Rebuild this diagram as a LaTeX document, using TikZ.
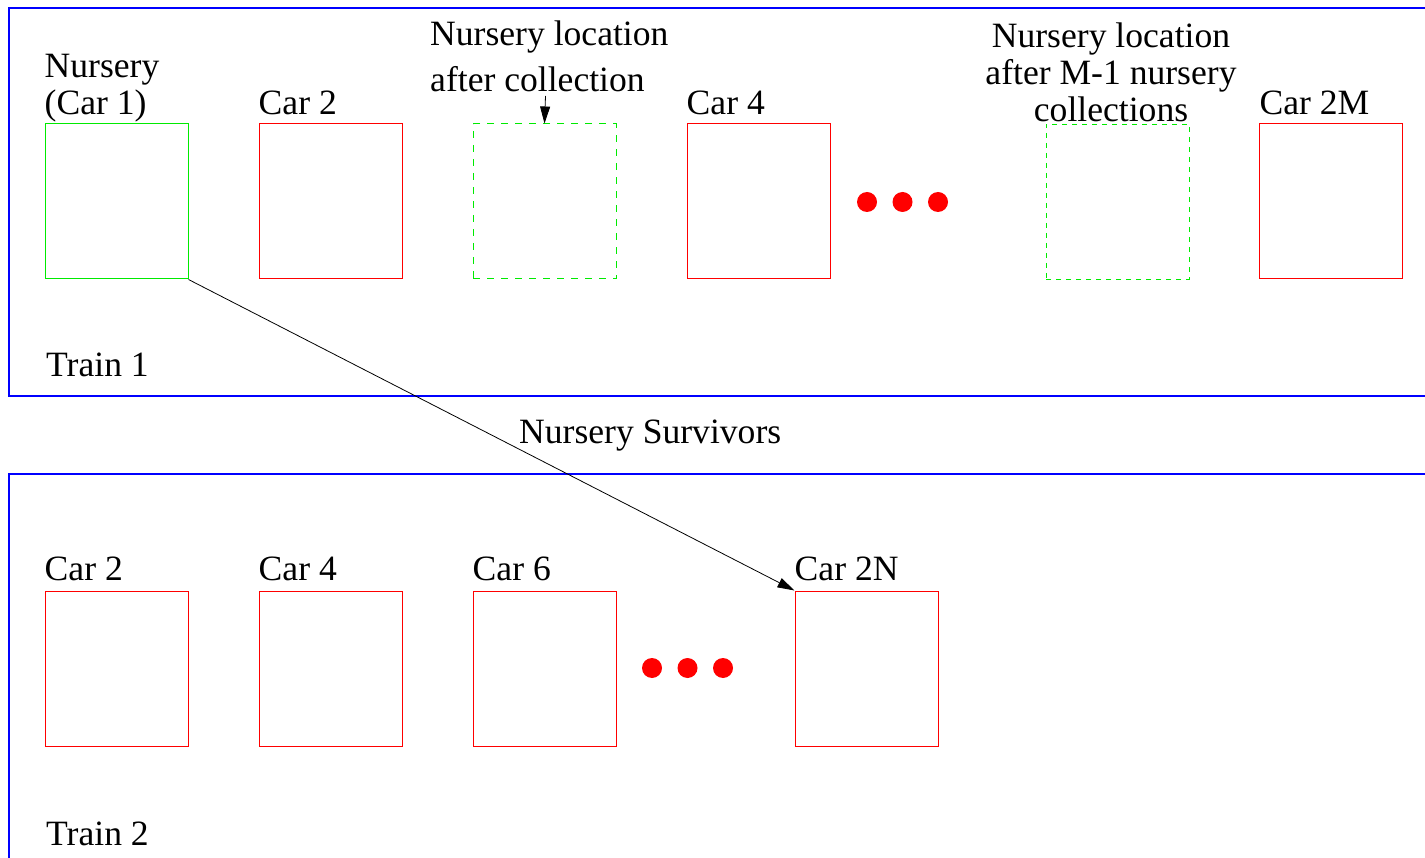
\documentclass[tikz,border=0pt]{standalone}
\usepackage{fontspec}
\setmainfont{LiberationSerif}[Extension=.ttf, UprightFont=*-Regular]
\newfontfamily\trainfont{LiberationSerif}[Extension=.ttf, UprightFont=*-Regular]
\usetikzlibrary{arrows.meta,positioning}
\definecolor{trFrame}{RGB}{0,0,255}
\definecolor{trCar}{RGB}{255,0,0}
\definecolor{trNursery}{RGB}{0,235,0}
\tikzset{
  car/.style={draw=trCar, line width=1pt, minimum width=143pt, minimum height=155pt, inner sep=0pt},
  nursery/.style={car, draw=trNursery},
  ghost/.style={car, draw=trNursery, dash pattern=on 7pt off 7pt},
  cardot/.style={circle, fill=trCar, minimum size=20pt, inner sep=0pt},
  lbl/.style={font=\trainfont\fontsize{35.6}{37}\selectfont, inner sep=0pt, anchor=base west},
  frame/.style={draw=trFrame, line width=1.4pt},
  move/.style={-{Triangle[length=17pt,width=10pt]}, line width=0.8pt}
}
\begin{document}
\begin{tikzpicture}[x=1pt, y=-1pt, node distance=70pt]
  \useasboundingbox (0,0) rectangle (1425,858);
  % trains
  \draw[frame] (1440,8) -- (9,8) -- (9,396) -- (1440,396);
  \draw[frame] (1440,474) -- (9,474) -- (9,870);
  % train 1
  \node[nursery] (nur) at (116.5,201.5) {};
  \node[car, right=of nur] (t1c2) {};
  \node[ghost, right=of t1c2] (gone) {};
  \node[car, right=of gone] (t1c4) {};
  \node[cardot] (d1) at (867,202) {};
  \node[cardot] (d2) at (902.5,202) {};
  \node[cardot] (d3) at (938,202) {};
  \node[ghost, dash pattern=on 5pt off 5pt, line width=0.7pt] (gtwo) at (1117.5,201.5) {};
  \node[car, right=of gtwo] (t1cm) {};
  \node[lbl, align=left] (lnur) at ([yshift=9pt]nur.north west) {Nursery\\(Car 1)};
  \node[lbl] (lc2) at ([yshift=9pt]t1c2.north west) {Car 2};
  \node[lbl] (lc4) at ([yshift=9pt]t1c4.north west) {Car 4};
  \node[lbl] (lcm) at ([yshift=9pt]t1cm.north west) {Car 2M};
  \node[lbl, align=left] (lgone) at (430,92) {Nursery location\\[9pt]after collection};
  \node[lbl, align=center, anchor=base] (lgtwo) at (1111,122) {Nursery location\\after M-1 nursery\\collections};
  \coordinate (gonetip) at (545.5,96);
  \draw[move] (gonetip) -- (gone.north);
  \node[lbl] (tone) at (46,377) {Train 1};
  % train 2
  \node[car] (t2c2) at (116.5,668.5) {};
  \node[car, right=of t2c2] (t2c4) {};
  \node[car, right=of t2c4] (t2c6) {};
  \node[cardot] (e1) at (652,668) {};
  \node[cardot] (e2) at (687.5,668) {};
  \node[cardot] (e3) at (723,668) {};
  \node[car] (t2cn) at (866.5,668.5) {};
  \node[lbl] (mc2) at ([yshift=10pt]t2c2.north west) {Car 2};
  \node[lbl] (mc4) at ([yshift=10pt]t2c4.north west) {Car 4};
  \node[lbl] (mc6) at ([yshift=10pt]t2c6.north west) {Car 6};
  \node[lbl] (mcn) at ([yshift=10pt]t2cn.north west) {Car 2N};
  \node[lbl] (ttwo) at (46,845) {Train 2};
  % survivors move over
  \draw[move] (nur.south east) -- (t2cn.north west);
  \node[lbl] (surv) at (519,444) {Nursery Survivors};
\end{tikzpicture}
\end{document}
